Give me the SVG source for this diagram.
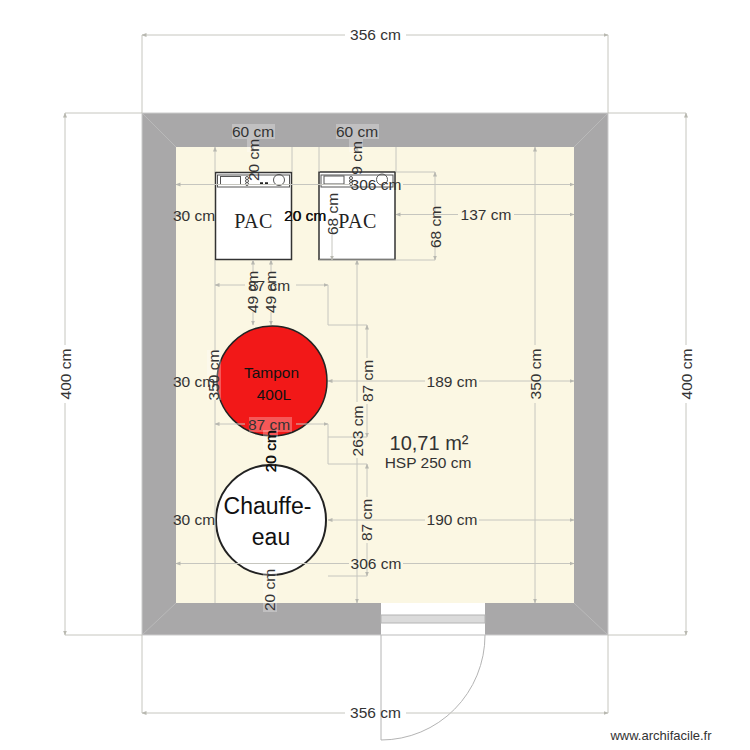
<svg xmlns="http://www.w3.org/2000/svg" width="750" height="750" viewBox="0 0 750 750">
<style>
.d{fill:none;stroke:#c6c6bf;stroke-width:1}
.s{marker-start:url(#ar)}
.e{marker-end:url(#ar)}
text{font-family:"Liberation Sans",Arial,sans-serif;fill:#333;font-size:15.500px;text-anchor:middle;dominant-baseline:central}
.k{fill:#111}
.bg{fill:#fff;fill-opacity:.28}
.box{fill:#fff;stroke:#333;stroke-width:1.500}
.pn{fill:none;stroke:#555;stroke-width:1}
text.pac{font-family:"Liberation Serif",serif;font-size:20px;fill:#222;letter-spacing:.5px}
</style>
<defs>
<marker id="ar" viewBox="0 0 5 5" refX="4.500" refY="2.500" markerWidth="5" markerHeight="5" orient="auto-start-reverse" markerUnits="userSpaceOnUse"><path d="M0 .5L5 2.500L0 4.500z" fill="#b8b8b0"/></marker>
</defs>
<rect width="750" height="750" fill="#fff"/>
<g id="room">
<rect x="142" y="113" width="466" height="522" fill="#a9a8a9" stroke="#ccc"/>
<rect x="176" y="147" width="398" height="456" fill="#fbf7e3"/>
<path d="M142 113L176 147M608 113L574 147M142 635L176 603M608 635L574 603" stroke="#c0c0c0" stroke-opacity=".7" fill="none"/>
</g>
<g id="door">
<rect x="381" y="603" width="104" height="32" fill="#fff"/>
<rect x="381" y="615" width="104" height="8" fill="#dbdbdb" stroke="#b4b4b4"/>
<path d="M381 635V740A104 105 0 0 0 485 635" fill="#fff" stroke="#b4b4b4"/>
<path d="M381 635H485" stroke="#bbb"/>
</g>
<g id="pac1">
<rect class="box" x="215.500" y="172.500" width="76" height="87"/>
<rect class="pn" x="217.500" y="175" width="72" height="12"/>
<rect class="pn" x="220.500" y="176.500" width="20" height="8"/>
<circle class="pn" cx="247" cy="178" r="1.500"/><circle class="pn" cx="247" cy="181" r="1.500"/><circle class="pn" cx="247" cy="184" r="1.500"/>
<path d="M260 183.500h3M265 183.500h3" stroke="#222" stroke-width="2.500"/>
<circle class="pn" cx="279" cy="180" r="5.500"/>
<text class="pac" x="253.500" y="221">PAC</text>
</g>
<g id="pac2">
<rect class="box" x="319" y="172" width="76" height="87.500"/>
<rect class="pn" x="321" y="175" width="72" height="12"/>
<rect class="pn" x="324" y="176" width="20" height="8"/>
<circle class="pn" cx="351" cy="178" r="1.500"/><circle class="pn" cx="351" cy="181" r="1.500"/><circle class="pn" cx="351" cy="184" r="1.500"/>
<circle class="pn" cx="382" cy="179.500" r="5.500"/>
<text class="pac" x="357.500" y="221">PAC</text>
</g>
<g id="tampon">
<circle cx="272" cy="381" r="55" fill="#f21818" stroke="#222" stroke-width="1.500"/>
<text x="271.500" y="372" class="k" style="font-size:15.500px">Tampon</text>
<text x="274" y="394" class="k" style="font-size:15.500px">400L</text>
</g>
<g id="chauffe-eau">
<circle cx="271" cy="520" r="55" fill="#fff" stroke="#222" stroke-width="2"/>
<text x="267.500" y="505.500" style="font-size:23px" class="k">Chauffe-</text>
<text x="271" y="536.500" style="font-size:23px" class="k">eau</text>
</g>
<g id="connectors">
<path class="d" d="M142 113V35M608 113V35M142 635V713M608 635V713M142 113H65M142 635H65M608 113H686M608 635H686"/>
<path class="d s" d="M142 35H345"/><path class="d e" d="M406 35H608"/>
<path class="d s" d="M142 713H345"/><path class="d e" d="M406 713H608"/>
<path class="d s" d="M65 113V345"/><path class="d e" d="M65 403V635"/>
<path class="d s" d="M686 113V345"/><path class="d e" d="M686 403V635"/>
<path class="d s" d="M535 147V345"/><path class="d e" d="M535 403V603"/>
<path class="d s" d="M215 147V172"/><path class="d" d="M215 260V350M215 400V603"/>
<path class="d" d="M292 147V172M319 147V172M396 147V172"/>
<path class="d s" d="M176 184.500H350"/><path class="d e" d="M403 184.500H574"/>
<path class="d s" d="M176 563.500H349"/><path class="d e" d="M403 563.500H574"/>
<path class="d s" d="M396 214.500H458"/><path class="d e" d="M514 214.500H574"/>
<path class="d s" d="M328 381H425"/><path class="d e" d="M479 381H574"/>
<path class="d s" d="M328 520H425"/><path class="d e" d="M479 520H574"/>
<path class="d s" d="M176 214H190"/><path class="d s" d="M176 381H190"/><path class="d s" d="M176 519H190"/>
<path class="d" d="M396 172H435M319 260H435"/>
<path class="d s" d="M435 172V212"/><path class="d e" d="M435 243V260"/>
<path class="d e" d="M332 235V260"/>
<path class="d s" d="M253 147V150"/><path class="d s" d="M357 147V150"/>
<path class="d s" d="M253 260V272"/><path class="d s" d="M271 260V272"/>
<path class="d e" d="M253 312V325"/><path class="d e" d="M271 312V325"/>
<path class="d s" d="M215 285H245"/><path class="d e" d="M296 285H328"/>
<path class="d s" d="M215 424H245"/><path class="d e" d="M296 424H328"/>
<path class="d" d="M328 285V325H367M328 424V464H367M328 437H367M328 576H367"/>
<path class="d s" d="M367 325V358"/><path class="d e" d="M367 404V437"/>
<path class="d s" d="M367 464V497"/><path class="d e" d="M367 543V576"/>
<path class="d s" d="M357 260V402"/><path class="d e" d="M357 458V603"/>
</g>
<g id="labels">
<rect class="bg" x="232" y="124" width="43" height="15"/>
<rect class="bg" x="336" y="124" width="43" height="15"/>
<rect class="bg" x="247" y="139" width="12" height="13"/>
<rect class="bg" x="349" y="139" width="14" height="13"/>
<rect class="bg" x="249" y="417" width="43" height="15"/>
<rect class="bg" x="207" y="350" width="14" height="50"/>
<rect class="bg" x="263" y="430" width="15" height="20"/>
<rect class="bg" x="263" y="572" width="14" height="40"/>
<text x="375.500" y="34">356 cm</text>
<text x="375.500" y="712">356 cm</text>
<text x="65" y="374" transform="rotate(-90 65 374)">400 cm</text>
<text x="686" y="374" transform="rotate(-90 686 374)">400 cm</text>
<text x="535" y="374" transform="rotate(-90 535 374)">350 cm</text>
<text x="213" y="375" transform="rotate(-90 213 375)">350 cm</text>
<text x="253" y="131">60 cm</text>
<text x="357" y="131">60 cm</text>
<text x="253" y="160" transform="rotate(-90 253 160)">20 cm</text>
<text x="356" y="158" transform="rotate(-90 356 158)">9 cm</text>
<text x="376" y="184">306 cm</text>
<text x="376" y="563">306 cm</text>
<text x="486" y="214">137 cm</text>
<text x="194" y="215">30 cm</text>
<text class="k" x="305" y="215">20 cm</text>
<text class="k" x="305.400" y="215">20 cm</text>
<text x="194" y="381">30 cm</text>
<text x="194" y="519">30 cm</text>
<text x="435" y="227" transform="rotate(-90 435 227)">68 cm</text>
<text x="332" y="214" transform="rotate(-90 332 214)">68 cm</text>
<text x="269" y="285">87 cm</text>
<text x="269" y="424">87 cm</text>
<text x="252" y="292" transform="rotate(-90 252 292)">49 cm</text>
<text x="270" y="292" transform="rotate(-90 270 292)">49 cm</text>
<text x="367" y="381" transform="rotate(-90 367 381)">87 cm</text>
<text x="366" y="520" transform="rotate(-90 366 520)">87 cm</text>
<text x="357" y="431" transform="rotate(-90 357 431)">263 cm</text>
<text x="452" y="381">189 cm</text>
<text x="452" y="519">190 cm</text>
<text class="k" x="270" y="451" transform="rotate(-90 270 451)">20 cm</text>
<text class="k" x="270" y="451.500" transform="rotate(-90 270 451.500)">20 cm</text>
<text x="269" y="590" transform="rotate(-90 269 590)">20 cm</text>
<text x="429" y="443" style="font-size:20px">10,71 m²</text>
<text x="428" y="462">HSP 250 cm</text>
<text x="661" y="735" style="font-size:13px">www.archifacile.fr</text>
</g>
</svg>
